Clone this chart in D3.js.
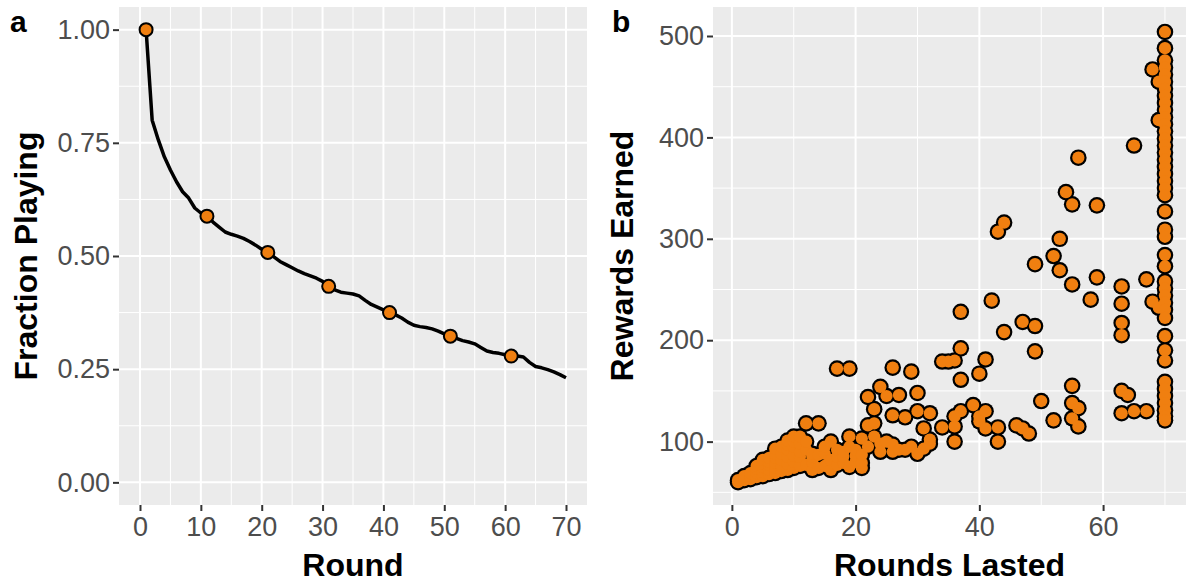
<!DOCTYPE html>
<html>
<head>
<meta charset="utf-8">
<title>Fraction playing and rewards</title>
<script src="https://d3js.org/d3.v7.min.js"></script>
<style>
  body { margin: 0; background: #fff; }
  text { font-family: "Liberation Sans", Arial, sans-serif; }
</style>
</head>
<body>
<div id="chart"></div>
<script>
// panel a: fraction of players still playing, rounds 1..70
var rounds = d3.range(1, 71)
var fractionPlaying = [
  1.000, 0.800, 0.757, 0.719, 0.690, 0.664, 0.642, 0.628, 0.606, 0.595,
  0.588, 0.575, 0.564, 0.553, 0.548, 0.544, 0.539, 0.532, 0.524, 0.515,
  0.508, 0.498, 0.488, 0.481, 0.474, 0.467, 0.461, 0.456, 0.451, 0.444,
  0.433, 0.425, 0.420, 0.418, 0.416, 0.412, 0.402, 0.393, 0.387, 0.381,
  0.375, 0.370, 0.363, 0.354, 0.347, 0.344, 0.342, 0.339, 0.334, 0.328,
  0.323, 0.318, 0.313, 0.310, 0.306, 0.298, 0.290, 0.287, 0.285, 0.282,
  0.279, 0.279, 0.277, 0.265, 0.256, 0.253, 0.249, 0.244, 0.238, 0.231
]
var markedRounds = [1, 11, 21, 31, 41, 51, 61]
var xTicksA = [0, 10, 20, 30, 40, 50, 60, 70]
var yTicksA = [0, 0.25, 0.5, 0.75, 1]

// panel b: rounds lasted vs rewards earned, one entry per player
var roundsLasted = [
  1, 1, 2, 2, 2, 3, 3, 3, 4, 4, 4, 4, 5, 5, 5, 5, 5, 6, 6, 6, 6, 6, 7, 7, 7, 7, 7, 7,
  8, 8, 8, 8, 8, 9, 9, 9, 9, 9, 9, 10, 10, 10, 10, 10, 10, 11, 11, 11, 11, 11,
  12, 12, 12, 12, 13, 13, 13, 13, 14, 14, 14, 15, 15, 15, 16, 16, 16, 17, 17, 17, 17, 18, 18, 18,
  19, 19, 19, 19, 20, 20, 20, 21, 21, 21, 21, 22, 22, 22, 23, 23, 23, 24, 24, 24,
  25, 25, 26, 26, 26, 26, 27, 27, 28, 28, 29, 29, 30, 30, 30, 31, 31,
  32, 32, 32, 34, 34, 35, 36, 36, 36, 36, 37, 37, 37, 37, 39, 40, 40, 40,
  41, 41, 41, 42, 43, 43, 43, 44, 44, 46, 47, 47, 48, 49, 49, 49, 50,
  52, 52, 53, 53, 54, 55, 55, 55, 55, 55, 56, 56, 56, 58, 59, 59,
  63, 63, 63, 63, 63, 63, 64, 65, 65, 67, 67, 68, 68, 69, 69, 69,
  70, 70, 70, 70, 70, 70, 70, 70, 70, 70, 70, 70, 70, 70, 70, 70, 70, 70,
  70, 70, 70, 70, 70, 70, 70, 70, 70, 70, 70, 70, 70, 70, 70, 70, 70, 70,
  70, 70, 70, 70, 70, 70, 70
]
var rewardsEarned = [
  60, 62, 62, 64, 66, 63, 66, 69, 65, 69, 73, 76, 66, 70, 75, 78, 82, 68, 72, 77, 80, 84, 69, 74, 79, 84, 88, 93,
  71, 76, 82, 88, 95, 72, 78, 85, 92, 97, 101, 74, 80, 86, 95, 100, 105, 76, 85, 90, 98, 105,
  77, 92, 100, 118, 72, 80, 85, 88, 74, 87, 118, 76, 88, 95, 72, 82, 100, 77, 85, 92, 172, 79, 85, 90,
  75, 95, 105, 172, 80, 86, 92, 74, 79, 87, 103, 95, 116, 144, 105, 118, 132, 90, 98, 154,
  100, 145, 90, 97, 126, 173, 92, 146, 92, 124, 95, 169, 88, 130, 148, 93, 113,
  98, 102, 128, 114, 179, 179, 100, 115, 125, 180, 130, 161, 192, 228, 136, 120, 125, 167,
  113, 130, 181, 239, 100, 114, 307, 208, 316, 116, 113, 218, 108, 189, 214, 275, 140,
  121, 283, 269, 300, 346, 123, 138, 155, 255, 334, 115, 133, 380, 240, 262, 333,
  128, 150, 205, 217, 236, 253, 146, 130, 392, 130, 260, 238, 467, 232, 455, 417,
  504, 488, 476, 469, 462, 455, 448, 441, 434, 427, 420, 413, 406, 399, 392, 385, 378, 371,
  364, 357, 350, 343, 327, 309, 302, 284, 273, 258, 251, 244, 237, 230, 222, 204, 190, 180,
  159, 152, 145, 138, 131, 125, 121
]
var xTicksB = [0, 20, 40, 60]
var yTicksB = [100, 200, 300, 400, 500]

var width = 1187, height = 583
var orange = "#f07f10"
var svg = d3.select("#chart").append("svg")
    .attr("width", width)
    .attr("height", height)

// draws the grey ggplot-style panel with grid, ticks and labels
function panel(x, y, xMajor, xMinor, yMajor, yMinor, yFmt) {
    var g = svg.append("g")
    var x0 = x.range()[0], x1 = x.range()[1]
    var y0 = y.range()[0], y1 = y.range()[1]
    g.append("rect")
        .attr("x", x0).attr("y", y1)
        .attr("width", x1 - x0).attr("height", y0 - y1)
        .attr("fill", "#ebebeb")
    g.selectAll(".vmin").data(xMinor).enter().append("line")
        .attr("x1", d => x(d)).attr("x2", d => x(d))
        .attr("y1", y0).attr("y2", y1)
        .attr("stroke", "#fff").attr("stroke-width", 1)
    g.selectAll(".hmin").data(yMinor).enter().append("line")
        .attr("y1", d => y(d)).attr("y2", d => y(d))
        .attr("x1", x0).attr("x2", x1)
        .attr("stroke", "#fff").attr("stroke-width", 1)
    g.selectAll(".vmaj").data(xMajor).enter().append("line")
        .attr("x1", d => x(d)).attr("x2", d => x(d))
        .attr("y1", y0).attr("y2", y1)
        .attr("stroke", "#fff").attr("stroke-width", 2)
    g.selectAll(".hmaj").data(yMajor).enter().append("line")
        .attr("y1", d => y(d)).attr("y2", d => y(d))
        .attr("x1", x0).attr("x2", x1)
        .attr("stroke", "#fff").attr("stroke-width", 2)

    // axes
    var xa = g.append("g").attr("transform", "translate(0," + y0 + ")")
        .call(d3.axisBottom(x).tickValues(xMajor).tickSize(6).tickPadding(6))
    var ya = g.append("g").attr("transform", "translate(" + x0 + ",0)")
        .call(d3.axisLeft(y).tickValues(yMajor).tickSize(6).tickPadding(3).tickFormat(yFmt))
    ;[xa, ya].forEach(function (a) {
        a.select(".domain").remove()
        a.selectAll(".tick line").attr("stroke", "#333").attr("stroke-width", 2)
        a.selectAll(".tick text")
            .attr("fill", "#4d4d4d")
            .style("font-size", "27px")
            .style("font-family", "Liberation Sans, Arial, sans-serif")
    })
    xa.selectAll(".tick text").attr("dy", "0.71em")
    return g
}

function title(txt, x, y, rotate) {
    svg.append("text")
        .attr("transform", "translate(" + x + "," + y + ")" + (rotate ? " rotate(-90)" : ""))
        .attr("text-anchor", "middle")
        .style("font-size", "32px")
        .style("font-weight", "bold")
        .text(txt)
}

// ---- panel a
var xA = d3.scaleLinear().domain([-3.45, 73.45]).range([119, 587])
var yA = d3.scaleLinear().domain([-0.05, 1.05]).range([505, 7])
panel(xA, yA, xTicksA, [5, 15, 25, 35, 45, 55, 65], yTicksA, [0.125, 0.375, 0.625, 0.875], d3.format(".2f"))

var lineA = d3.line()
    .x((d, i) => xA(rounds[i]))
    .y(d => yA(d))
svg.append("path")
    .datum(fractionPlaying)
    .attr("d", lineA)
    .attr("fill", "none")
    .attr("stroke", "#000")
    .attr("stroke-width", 3.5)
    .attr("stroke-linejoin", "round")

var marks = markedRounds.map(r => ({r: r, f: fractionPlaying[r - 1]}))
svg.selectAll(".ptA").data(marks).enter().append("circle")
    .attr("cx", d => xA(d.r)).attr("cy", d => yA(d.f))
    .attr("r", 6.5)
    .attr("fill", orange)
    .attr("stroke", "#000").attr("stroke-width", 2)

title("Round", (119 + 587) / 2, 576, false)
title("Fraction Playing", 37, 256, true)

// ---- panel b
var xB = d3.scaleLinear().domain([-3.05, 73.4]).range([713, 1186])
var yB = d3.scaleLinear().domain([37.5, 528.6]).range([505, 7])
panel(xB, yB, xTicksB, [10, 30, 50, 70], yTicksB, [50, 150, 250, 350, 450], d3.format("d"))

var pts = roundsLasted.map((r, i) => ({r: r, w: rewardsEarned[i]}))
// black layer under orange layer, so overlapping points merge
svg.append("g").selectAll("circle").data(pts).enter().append("circle")
    .attr("cx", d => xB(d.r)).attr("cy", d => yB(d.w))
    .attr("r", 8.3)
    .attr("fill", "#000")
svg.append("g").selectAll("circle").data(pts).enter().append("circle")
    .attr("cx", d => xB(d.r)).attr("cy", d => yB(d.w))
    .attr("r", 6.1)
    .attr("fill", orange)

title("Rounds Lasted", (713 + 1186) / 2, 576, false)
title("Rewards Earned", 633, 256, true)

// panel tags
svg.append("text").attr("x", 10).attr("y", 32)
    .style("font-size", "30px").style("font-weight", "bold").text("a")
svg.append("text").attr("x", 612).attr("y", 32)
    .style("font-size", "30px").style("font-weight", "bold").text("b")
</script>
</body>
</html>
